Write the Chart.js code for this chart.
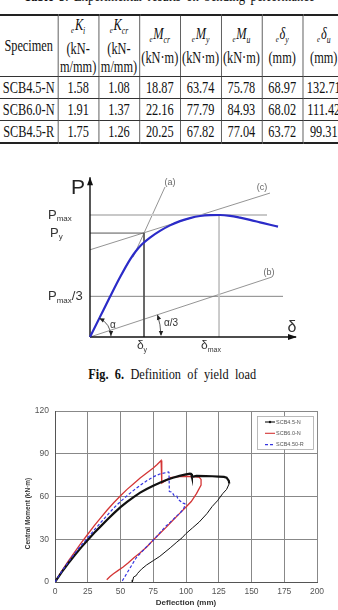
<!DOCTYPE html>
<html>
<head>
<meta charset="utf-8">
<script src="https://cdn.jsdelivr.net/npm/chart.js@4.4.1/dist/chart.umd.min.js"></script>
<style>
  html, body { margin: 0; padding: 0; background: #fff; }
  body { width: 338px; height: 610px; overflow: hidden; position: relative; font-family: "Liberation Serif", serif; color: #111; }
  #title { position: absolute; left: 0; top: -13px; width: 428px; text-align: center; font-size: 16px; word-spacing: 3px; white-space: nowrap; transform: scaleX(0.79); transform-origin: 0 0; }
  #tblwrap { position: absolute; left: 0; top: 14px; width: 338px; height: 132px; overflow: hidden; }
  table { border-collapse: collapse; table-layout: fixed; width: 448px; font-size: 16px; transform: scaleX(0.77); transform-origin: 0 0; }
  td { border-left: 1px solid #333; border-right: 1px solid #333; border-bottom: 1px solid #333; text-align: center; vertical-align: middle; padding: 0; white-space: nowrap; overflow: hidden; }
  td:first-child { border-left: none; }
  tr:first-child td { border-top: 2px solid #222; height: 59px; line-height: 18px; }
  tr.data td { height: 21px; line-height: 21px; }
  tr.data:last-child td { border-bottom: 2px solid #222; }
  .pre { font-size: 9px; font-style: italic; vertical-align: -3px; margin-right: 1px; }
  sub { font-size: 10px; font-style: italic; }
  #caption { position: absolute; left: 0; top: 366px; width: 420px; text-align: center; font-size: 15px; word-spacing: 4px; white-space: nowrap; transform: scaleX(0.82); transform-origin: 0 0; }
  #diagram { position: absolute; left: 40px; top: 165px; }
  #chart { position: absolute; left: 0; top: 395px; }
</style>
</head>
<body>
<div id="title"><b>Table 3.</b> Experimental results on bending performance</div>
<div id="tblwrap"><table id="tbl"></table></div>
<canvas id="diagram" width="270" height="195"></canvas>
<div id="caption"><b>Fig. 6.</b> Definition of yield load</div>
<canvas id="chart" width="338" height="215"></canvas>
<script>
// ---- Table 3 ----
const specimens = ["SCB4.5-N", "SCB6.0-N", "SCB4.5-R"];
const Ki = ["1.58", "1.91", "1.75"];
const Kcr = ["1.08", "1.37", "1.26"];
const Mcr = ["18.87", "22.16", "20.25"];
const My = ["63.74", "77.79", "67.82"];
const Mu = ["75.78", "84.93", "77.04"];
const dy = ["68.97", "68.02", "63.72"];
const du = ["132.71", "111.42", "99.31"];

// ---- Fig. 6 schematic (delta, P in arbitrary units, Pmax = 10) ----
const curveDelta = [0, 0.5, 1.0, 1.5, 2.0, 2.3, 2.6, 3.0, 3.5, 4.0, 4.5, 5.0, 5.5, 6.0, 6.5, 7.0, 7.5, 8.0, 8.5, 9.0, 9.4];
const curveLoad = [0, 1.65, 3.3, 4.9, 6.35, 7.05, 7.6, 8.15, 8.7, 9.15, 9.5, 9.75, 9.92, 9.99, 10.0, 9.93, 9.78, 9.6, 9.4, 9.2, 9.05];
const Pmax = 10, Py = 8.52, deltaY = 2.7, deltaMax = 6.45;
const lineA = [[2.15, 6.54], [3.75, 12.3]];
const lineB = [[0, 0], [9.1, 4.92]];
const lineC = [[0, 7.15], [9, 11.8]];

// ---- Moment-deflection curves ----
const blackLoadDefl = [0, 5, 10, 15, 20, 25, 30, 35, 40, 45, 50, 55, 60, 65, 70, 75, 80, 85, 90, 95, 100, 103, 104, 104.5, 108, 115, 120, 125, 129, 131, 132.7, 133];
const blackLoadMoment = [0, 6.8, 13, 18.8, 24.3, 29.5, 34.5, 39.2, 43.8, 48.3, 52.5, 56.2, 59.6, 62.7, 65.3, 67.6, 69.7, 71.6, 73.2, 74.5, 75.5, 76, 75.8, 73.8, 74.5, 74.3, 74.2, 74, 73.8, 73.2, 71, 69];
const blackUnloadDefl = [131, 128, 124, 120, 116, 110, 105, 100, 97, 93, 88, 84, 80, 75, 70, 66, 63, 62, 61, 60, 59.5, 59];
const blackUnloadMoment = [65, 62, 57, 53, 48, 42, 38, 34, 31, 28, 24, 21, 18, 15, 12, 9, 6, 4.5, 4, 3.5, 1.5, 0];

const redDefl = [0, 5, 10, 15, 20, 25, 30, 35, 40, 45, 50, 55, 60, 65, 70, 75, 78, 81, 81.5, 85, 88, 95, 100, 105, 110, 111.5, 111.5, 108, 104, 100, 95, 90, 85, 80, 75, 70, 65, 60, 56, 52, 48, 44.6, 42, 39.5];
const redMoment = [0, 7.5, 14.5, 21, 27.5, 33.5, 39.5, 45.2, 50.7, 55.8, 60.5, 65, 69, 73, 76.5, 80, 82.5, 85.3, 69.5, 71.5, 73.3, 73.9, 74.2, 74, 73.6, 72, 68, 62, 56.5, 52.6, 48, 43.3, 38.5, 34, 29.5, 24.6, 20.5, 16.8, 13.5, 10.5, 8, 5.8, 3.8, 1.6];

const blueDefl = [0, 5, 10, 15, 20, 25, 30, 35, 40, 45, 50, 55, 60, 65, 70, 75, 80, 85, 86.5, 87, 87.3, 89, 90, 91, 93, 94, 96, 97, 99, 99.5, 98, 95.5, 92, 88, 85, 80, 75, 70, 65, 62, 51.5, 50.5];
const blueMoment = [0, 7.2, 13.8, 20, 25.8, 31, 36.5, 41.8, 47, 52, 56.5, 60.5, 64.3, 67.8, 71, 73.8, 75.8, 76.8, 77.2, 77, 63.5, 63.2, 62, 60.5, 60.3, 58, 56.5, 55.5, 55, 54.5, 51, 48.5, 45.5, 42, 39.5, 34.5, 29.3, 24.8, 20, 17, 1, 0];

const xTicks = [0, 25, 50, 75, 100, 125, 150, 175, 200];
const yTicks = [0, 30, 60, 90, 120];
const seriesNames = ["SCB4.5-N", "SCB6.0-N", "SCB4.50-R"];
const yTitle = "Central Moment (kN·m)";

// build table
function buildTable() {
  const head = [
    "Specimen",
    '<span class="pre">e</span><i>K</i><sub>i</sub><br>(kN-<br>m/mm)',
    '<span class="pre">e</span><i>K</i><sub>cr</sub><br>(kN-<br>m/mm)',
    '<span class="pre">e</span><i>M</i><sub>cr</sub><br>(kN·m)',
    '<span class="pre">e</span><i>M</i><sub>y</sub><br>(kN·m)',
    '<span class="pre">e</span><i>M</i><sub>u</sub><br>(kN·m)',
    '<span class="pre">e</span><i>δ</i><sub>y</sub><br>(mm)',
    '<span class="pre">e</span><i>δ</i><sub>u</sub><br>(mm)',
  ];
  const widths = [75, 53, 53, 53, 53, 53, 53, 55];
  const tbl = document.getElementById("tbl");
  let html = "<colgroup>" + widths.map((w) => `<col style="width:${w}px">`).join("") + "</colgroup>";
  html += "<tr>" + head.map((h) => `<td>${h}</td>`).join("") + "</tr>";
  specimens.forEach((s, i) => {
    const row = [s, Ki[i], Kcr[i], Mcr[i], My[i], Mu[i], dy[i], du[i]];
    html += '<tr class="data">' + row.map((v) => `<td>${v}</td>`).join("") + "</tr>";
  });
  tbl.innerHTML = html;
}
buildTable();

const toXY = (xs, ys) => xs.map((v, i) => ({ x: v, y: ys[i] }));
const pairs = (arr) => arr.map((p) => ({ x: p[0], y: p[1] }));

// ---- diagram ----
function arrowHead(ctx, x, y, angle, len, half) {
  ctx.save();
  ctx.translate(x, y);
  ctx.rotate(angle);
  ctx.beginPath();
  ctx.moveTo(0, 0);
  ctx.lineTo(-len, -half);
  ctx.lineTo(-len, half);
  ctx.closePath();
  ctx.fill();
  ctx.restore();
}

const diagramLabels = [
  { t: "P", x: -0.6, y: 12.2, size: 21, color: "#222", align: "center" },
  { t: "P", sub: "max", x: -2.1, y: 10, size: 13, color: "#333", align: "left" },
  { t: "P", sub: "y", x: -2.0, y: 8.52, size: 13, color: "#333", align: "left" },
  { t: "P", sub: "max", tail: "/3", x: -2.1, y: 3.33, size: 13, color: "#333", align: "left" },
  { t: "(a)", x: 4.0, y: 12.65, size: 9, color: "#666", align: "center" },
  { t: "(c)", x: 8.6, y: 12.25, size: 9, color: "#666", align: "center" },
  { t: "(b)", x: 8.95, y: 5.3, size: 9, color: "#666", align: "center" },
  { t: "δ", x: 10.1, y: 0.75, size: 16, color: "#333", align: "center" },
  { t: "δ", sub: "y", x: 2.6, y: -0.75, size: 12, color: "#333", align: "center" },
  { t: "δ", sub: "max", x: 6.05, y: -0.75, size: 12, color: "#333", align: "center" },
  { t: "α", x: 1.15, y: 1.0, size: 10, color: "#333", align: "center" },
  { t: "α/3", x: 4.05, y: 1.15, size: 10, color: "#333", align: "center" },
];

const diagramDecor = {
  id: "diagramDecor",
  afterDatasetsDraw(chart) {
    const { ctx, scales: { x, y } } = chart;
    const ox = x.getPixelForValue(0), oy = y.getPixelForValue(0);
    ctx.save();
    ctx.fillStyle = "#111";
    arrowHead(ctx, ox, y.getPixelForValue(13.1), -Math.PI / 2, 8, 3);
    arrowHead(ctx, x.getPixelForValue(10.35), oy, 0, 9, 3);

    // angle arcs
    ctx.strokeStyle = "#333";
    ctx.fillStyle = "#222";
    ctx.lineWidth = 0.8;
    const aCurve = Math.atan2(oy - y.getPixelForValue(curveLoad[1]), x.getPixelForValue(curveDelta[1]) - ox);
    const aB = Math.atan2(oy - y.getPixelForValue(lineB[1][1]), x.getPixelForValue(lineB[1][0]) - ox);
    [[21, aCurve], [71, aB]].forEach(([r, a]) => {
      ctx.beginPath();
      ctx.arc(ox, oy, r, -a, -0.03);
      ctx.stroke();
      arrowHead(ctx, ox + r, oy - 1, Math.PI / 2, 5, 2.2);
      const ex = ox + r * Math.cos(a), ey = oy - r * Math.sin(a);
      arrowHead(ctx, ex, ey, -a - Math.PI / 2, 5, 2.2);
    });

    ctx.textBaseline = "middle";
    diagramLabels.forEach((l) => {
      const px = x.getPixelForValue(l.x), py = y.getPixelForValue(l.y);
      ctx.fillStyle = l.color;
      ctx.font = `${l.size}px "Liberation Sans", Arial, sans-serif`;
      const w1 = ctx.measureText(l.t).width;
      const subSize = Math.round(l.size * 0.62);
      let total = w1;
      let wSub = 0, wTail = 0;
      if (l.sub) {
        ctx.font = `${subSize}px "Liberation Sans", Arial, sans-serif`;
        wSub = ctx.measureText(l.sub).width;
        total += wSub;
      }
      if (l.tail) {
        ctx.font = `${l.size}px "Liberation Sans", Arial, sans-serif`;
        wTail = ctx.measureText(l.tail).width;
        total += wTail;
      }
      let sx = l.align === "center" ? px - total / 2 : px;
      ctx.textAlign = "left";
      ctx.font = `${l.size}px "Liberation Sans", Arial, sans-serif`;
      ctx.fillText(l.t, sx, py);
      if (l.sub) {
        ctx.font = `${subSize}px "Liberation Sans", Arial, sans-serif`;
        ctx.fillText(l.sub, sx + w1, py + l.size * 0.32);
      }
      if (l.tail) {
        ctx.font = `${l.size}px "Liberation Sans", Arial, sans-serif`;
        ctx.fillText(l.tail, sx + w1 + wSub, py);
      }
    });
    ctx.restore();
  },
};

const thinLine = (data, color, width) => ({
  data, showLine: true, borderColor: color, borderWidth: width, pointRadius: 0, fill: false,
});

new Chart(document.getElementById("diagram"), {
  type: "scatter",
  data: {
    datasets: [
      { ...thinLine(toXY(curveDelta, curveLoad), "#2b2bc8", 2.2), cubicInterpolationMode: "monotone" },
      thinLine([{ x: 0, y: 0 }, { x: 0, y: 13.1 }], "#111", 1.4),
      thinLine([{ x: 0, y: 0 }, { x: 10.3, y: 0 }], "#111", 1.4),
      thinLine([{ x: 0, y: Pmax }, { x: 8.85, y: Pmax }], "#c8c8c8", 2),
      thinLine([{ x: 0, y: Py }, { x: deltaY, y: Py }, { x: deltaY, y: 0 }], "#555", 1),
      thinLine([{ x: deltaMax, y: Pmax }, { x: deltaMax, y: 0 }], "#c4c4c4", 1),
      thinLine([{ x: 0, y: Pmax / 3 }, { x: 9.65, y: Pmax / 3 }], "#777", 0.9),
      thinLine(pairs(lineA), "#888", 0.9),
      thinLine(pairs(lineB), "#888", 0.9),
      thinLine(pairs(lineC), "#888", 0.9),
    ],
  },
  options: {
    responsive: false,
    animation: false,
    layout: { padding: 0 },
    plugins: { legend: { display: false }, tooltip: { enabled: false } },
    scales: {
      x: { type: "linear", min: -2.5, max: 11, display: false },
      y: { type: "linear", min: -1.885, max: 14.1, display: false },
    },
  },
  plugins: [diagramDecor],
});

// ---- moment-deflection chart ----
const chartLegend = {
  id: "chartLegend",
  afterDraw(chart) {
    const ctx = chart.ctx;
    const area = chart.chartArea;
    ctx.save();
    // rotated y axis title
    ctx.translate(28, (area.top + area.bottom) / 2 + 17);
    ctx.rotate(-Math.PI / 2);
    ctx.fillStyle = "#333";
    ctx.font = 'bold 6.5px "Liberation Sans", Arial, sans-serif';
    ctx.textAlign = "center";
    ctx.textBaseline = "middle";
    ctx.fillText(yTitle, 0, 0);
    ctx.restore();

    const bx = 257, by = 21, bw = 56, bh = 33;
    ctx.save();
    ctx.fillStyle = "#fff";
    ctx.fillRect(bx, by, bw, bh);
    ctx.strokeStyle = "#aaa";
    ctx.lineWidth = 0.8;
    ctx.strokeRect(bx + 0.5, by + 0.5, bw, bh);
    ctx.font = '5.5px "Liberation Sans", Arial, sans-serif';
    ctx.textBaseline = "middle";
    chart.data.datasets.forEach((ds, i) => {
      const ly = by + 6 + i * 11.3;
      ctx.strokeStyle = ds.borderColor;
      ctx.lineWidth = 1.1;
      ctx.setLineDash(ds.borderDash || []);
      ctx.beginPath();
      ctx.moveTo(bx + 8, ly);
      ctx.lineTo(bx + 18, ly);
      ctx.stroke();
      ctx.setLineDash([]);
      if (i === 0) {
        ctx.fillStyle = ds.borderColor;
        ctx.beginPath();
        ctx.arc(bx + 13, ly, 1.2, 0, Math.PI * 2);
        ctx.fill();
      }
      ctx.fillStyle = "#555";
      ctx.fillText(ds.label, bx + 19, ly);
    });
    ctx.restore();
  },
};

const blackData = toXY(blackLoadDefl.concat(blackUnloadDefl), blackLoadMoment.concat(blackUnloadMoment));

new Chart(document.getElementById("chart"), {
  type: "scatter",
  data: {
    datasets: [
      {
        label: seriesNames[0], data: blackData, showLine: true, borderColor: "#111", borderWidth: 2.2, pointRadius: 0, order: 1,
        segment: { borderWidth: (c) => (c.p0DataIndex >= blackLoadDefl.length - 1 ? 1 : 2.2) },
      },
      { label: seriesNames[1], data: toXY(redDefl, redMoment), showLine: true, borderColor: "#d43535", borderWidth: 1.3, pointRadius: 0, order: 2 },
      { label: seriesNames[2], data: toXY(blueDefl, blueMoment), showLine: true, borderColor: "#3535e0", borderWidth: 1.2, borderDash: [3, 2], pointRadius: 0, order: 0 },
    ],
  },
  options: {
    responsive: false,
    animation: false,
    layout: { padding: { left: 22, right: 21, top: 16, bottom: 0 } },
    plugins: { legend: { display: false }, tooltip: { enabled: false } },
    scales: {
      x: {
        type: "linear", min: 0, max: 200,
        afterBuildTicks: (s) => { s.ticks = xTicks.map((v) => ({ value: v })); },
        afterFit: (s) => { s.height = 28; },
        grid: { color: "#888", lineWidth: 1, drawTicks: false },
        border: { color: "#555", width: 1 },
        ticks: { color: "#555", font: { size: 8.5, family: '"Liberation Sans", Arial, sans-serif' }, padding: 5, maxRotation: 0 },
        title: { display: true, text: "Deflection (mm)", color: "#333", font: { size: 8, weight: "bold", family: '"Liberation Sans", Arial, sans-serif' }, padding: { top: 0, bottom: 2 } },
      },
      y: {
        type: "linear", min: 0, max: 120,
        afterBuildTicks: (s) => { s.ticks = yTicks.map((v) => ({ value: v })); },
        afterFit: (s) => { s.width = 33; },
        grid: { color: "#888", lineWidth: 1, drawTicks: false },
        border: { color: "#555", width: 1 },
        ticks: { color: "#555", font: { size: 8.5, family: '"Liberation Sans", Arial, sans-serif' }, padding: 6 },
      },
    },
  },
  plugins: [chartLegend],
});
</script>
</body>
</html>
